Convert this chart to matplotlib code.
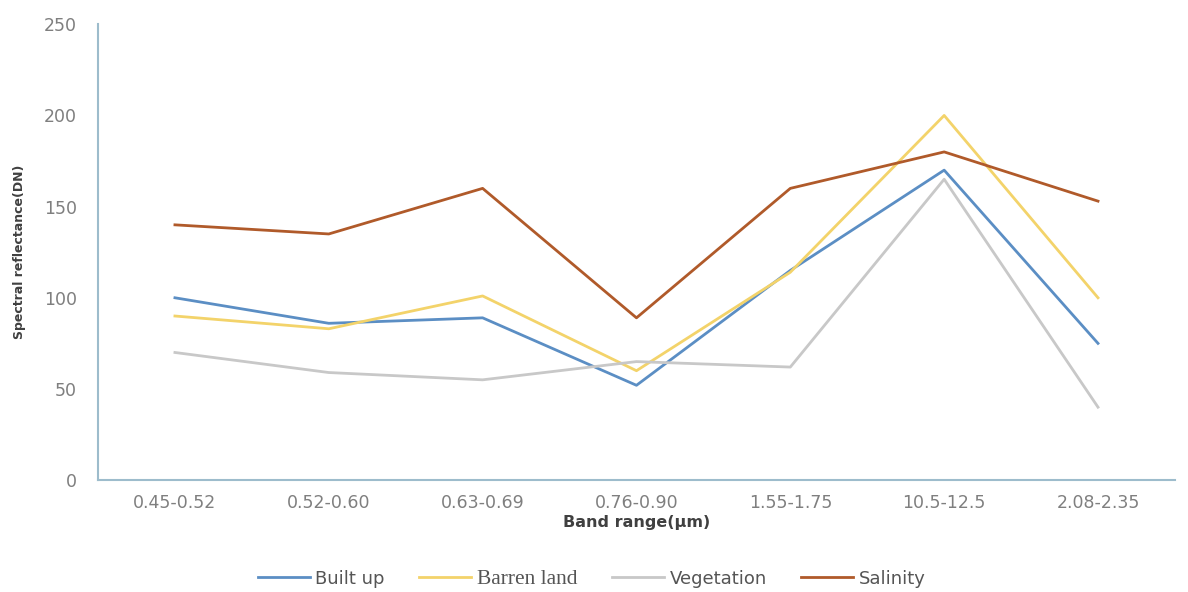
import numpy as np
import matplotlib.pyplot as plt

bands = ['0.45-0.52', '0.52-0.60', '0.63-0.69', '0.76-0.90', '1.55-1.75', '10.5-12.5', '2.08-2.35']
built_up = [100, 86, 89, 52, 115, 170, 75]
barren_land = [90, 83, 101, 60, 114, 200, 100]
vegetation = [70, 59, 55, 65, 62, 165, 40]
salinity = [140, 135, 160, 89, 160, 180, 153]

fig = plt.figure(figsize=(11.88, 5.92), dpi=100)
ax = fig.add_axes([0.0825, 0.189, 0.9065, 0.77])

x = np.arange(len(bands))
ax.plot(x, built_up, color='#5b8ec4', lw=2, label='Built up')
ax.plot(x, barren_land, color='#f3d36a', lw=2, label='Barren land')
ax.plot(x, vegetation, color='#c8c8c8', lw=2, label='Vegetation')
ax.plot(x, salinity, color='#b05a2a', lw=2, label='Salinity')

ax.set_xlim(-0.5, len(bands) - 0.5)
ax.set_ylim(0, 250)
ax.set_yticks([0, 50, 100, 150, 200, 250])
ax.set_xticks(x)
ax.set_xticklabels(bands)
ax.tick_params(length=0, colors='#7f7f7f', labelsize=12.5)
ax.tick_params(axis='y', pad=15)
ax.tick_params(axis='x', pad=10)

for s in ['top', 'right']:
    ax.spines[s].set_visible(False)
for s in ['left', 'bottom']:
    ax.spines[s].set_color('#9dbccc')
    ax.spines[s].set_linewidth(1.5)

ax.set_xlabel('Band range(μm)', fontsize=11.5, fontweight='bold', color='#404040', labelpad=2)
ax.set_ylabel('Spectral reflectance(DN)', fontsize=9, fontweight='bold', color='#404040',
              labelpad=13)

leg = fig.legend(loc='lower center', bbox_to_anchor=(0.498, -0.022), ncol=4, frameon=False,
                 fontsize=13, handlelength=2.9, handletextpad=0.3, columnspacing=1.9)
for t in leg.get_texts():
    t.set_color('#555555')
leg.get_texts()[1].set_family('Liberation Serif')
leg.get_texts()[1].set_fontsize(15.5)

plt.savefig('out.png', dpi=100)
